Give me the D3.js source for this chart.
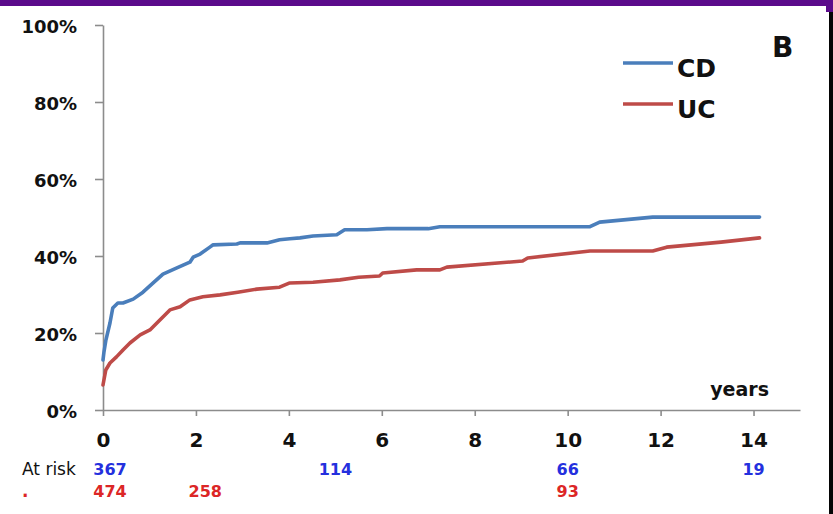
<!DOCTYPE html>
<html>
<head>
<meta charset="utf-8">
<script src="https://cdn.jsdelivr.net/npm/d3@7"></script>
<style>
  html, body { margin: 0; padding: 0; background: #ffffff; }
  svg { display: block; font-family: "DejaVu Sans", sans-serif; }
</style>
</head>
<body>
<svg id="chart" width="833" height="514"></svg>
<script>
// Cumulative incidence over follow-up (years), Crohn's disease vs ulcerative colitis
const cdTimes  = [0, 0.02, 0.06, 0.15, 0.21, 0.32, 0.43, 0.65, 0.86, 1.08, 1.29, 1.59, 1.87, 1.94, 2.09, 2.3, 2.37, 2.88, 2.95, 3.53, 3.8, 4.02, 4.24, 4.52, 5.03, 5.2, 5.68, 6.11, 7.0, 7.25, 10.48, 10.69, 11.83, 14.13];
const cdValues = [0.13, 0.15, 0.18, 0.226, 0.265, 0.278, 0.278, 0.288, 0.306, 0.33, 0.353, 0.369, 0.384, 0.397, 0.405, 0.423, 0.429, 0.431, 0.434, 0.434, 0.442, 0.445, 0.447, 0.452, 0.455, 0.468, 0.468, 0.471, 0.471, 0.476, 0.476, 0.488, 0.501, 0.501];

const ucTimes  = [0, 0.06, 0.15, 0.29, 0.43, 0.58, 0.8, 1.01, 1.16, 1.44, 1.66, 1.87, 2.15, 2.52, 2.9, 3.31, 3.8, 4.02, 4.52, 5.1, 5.5, 5.95, 6.02, 6.75, 7.25, 7.4, 9.03, 9.14, 10.48, 11.83, 12.13, 13.3, 14.13];
const ucValues = [0.065, 0.104, 0.122, 0.138, 0.156, 0.174, 0.195, 0.208, 0.226, 0.26, 0.268, 0.286, 0.294, 0.299, 0.306, 0.314, 0.319, 0.33, 0.332, 0.338, 0.345, 0.348, 0.356, 0.364, 0.364, 0.371, 0.387, 0.395, 0.413, 0.413, 0.423, 0.436, 0.447];

const seriesNames = ["CD", "UC"];
const yTicks = [0, 0.2, 0.4, 0.6, 0.8, 1.0];
const xTicks = [0, 2, 4, 6, 8, 10, 12, 14];

// Numbers at risk, placed under the time axis
const cdRiskTimes  = [0.15, 5, 10, 14];
const cdRiskCounts = [367, 114, 66, 19];
const ucRiskTimes  = [0.15, 2.2, 10];
const ucRiskCounts = [474, 258, 93];

const colors = { CD: "#4a7ebb", UC: "#be4b48" };
const riskColors = { CD: "#2430de", UC: "#dc2626" };

const svg = d3.select("#chart");

// Frame strips
svg.append("rect").attr("x", 0).attr("y", 0).attr("width", 833).attr("height", 6).attr("fill", "#5b0b8b");
svg.append("rect").attr("x", 826).attr("y", 0).attr("width", 7).attr("height", 12).attr("fill", "#5b0b8b");
svg.append("rect").attr("x", 829).attr("y", 12).attr("width", 4).attr("height", 502).attr("fill", "#050505");

const x = d3.scaleLinear().domain([0, 15]).range([103, 800]);
const y = d3.scaleLinear().domain([0, 1]).range([410, 25]);

// Y axis
const yAxis = svg.append("g")
  .attr("transform", `translate(${x(0)},0)`)
  .call(d3.axisLeft(y).tickValues(yTicks).tickFormat(d3.format(".0%"))
        .tickSize(8).tickSizeOuter(0).tickPadding(18));
yAxis.selectAll("text")
  .attr("font-family", "DejaVu Sans, sans-serif")
  .attr("font-size", 18).attr("font-weight", "bold").attr("fill", "#111")
  .attr("dy", "0.42em");

// X axis
const xAxis = svg.append("g")
  .attr("transform", `translate(0,${y(0)})`)
  .call(d3.axisBottom(x).tickValues(xTicks).tickFormat(d3.format("d"))
        .tickSize(6).tickSizeOuter(0).tickPadding(17));
xAxis.selectAll("text")
  .attr("font-family", "DejaVu Sans, sans-serif")
  .attr("font-size", 20).attr("font-weight", "bold").attr("fill", "#111");

svg.selectAll(".domain, .tick line")
  .attr("stroke", "#8c8c8c").attr("stroke-width", 1.6);

// Curves
const line = d3.line().x(d => x(d[0])).y(d => y(d[1]));
const series = [
  { name: "CD", pts: d3.zip(cdTimes, cdValues) },
  { name: "UC", pts: d3.zip(ucTimes, ucValues) }
];
svg.append("g").selectAll("path")
  .data(series.slice().reverse())
  .join("path")
  .attr("d", d => line(d.pts))
  .attr("fill", "none")
  .attr("stroke", d => colors[d.name])
  .attr("stroke-width", 3.6)
  .attr("stroke-linejoin", "round")
  .attr("stroke-linecap", "round");

// Legend
const legend = svg.append("g");
seriesNames.forEach((name, i) => {
  const ly = 63 + i * 41;
  legend.append("line")
    .attr("x1", 623).attr("x2", 673).attr("y1", ly).attr("y2", ly)
    .attr("stroke", colors[name]).attr("stroke-width", 3.4);
  legend.append("text")
    .attr("x", 677).attr("y", ly + 5).attr("dy", "0.36em")
    .attr("font-size", 25).attr("font-weight", "bold").attr("fill", "#111")
    .text(name);
});

// Panel letter
svg.append("text")
  .attr("x", 772).attr("y", 57)
  .attr("font-size", 28).attr("font-weight", "bold").attr("fill", "#111")
  .text("B");

// Axis unit
svg.append("text")
  .attr("x", 769).attr("y", 396).attr("text-anchor", "end")
  .attr("font-size", 19).attr("font-weight", "bold").attr("fill", "#111")
  .text("years");

// At-risk table
svg.append("text")
  .attr("x", 22).attr("y", 475)
  .attr("font-size", 17).attr("fill", "#111")
  .text("At risk");
svg.append("text")
  .attr("x", 22).attr("y", 497)
  .attr("font-size", 17).attr("font-weight", "bold").attr("fill", riskColors.UC)
  .text(".");

svg.append("g").selectAll("text")
  .data(d3.zip(cdRiskTimes, cdRiskCounts))
  .join("text")
  .attr("x", d => x(d[0])).attr("y", 475)
  .attr("text-anchor", "middle")
  .attr("font-size", 16).attr("font-weight", "bold").attr("fill", riskColors.CD)
  .text(d => d[1]);

svg.append("g").selectAll("text")
  .data(d3.zip(ucRiskTimes, ucRiskCounts))
  .join("text")
  .attr("x", d => x(d[0])).attr("y", 497)
  .attr("text-anchor", "middle")
  .attr("font-size", 16).attr("font-weight", "bold").attr("fill", riskColors.UC)
  .text(d => d[1]);
</script>
</body>
</html>
